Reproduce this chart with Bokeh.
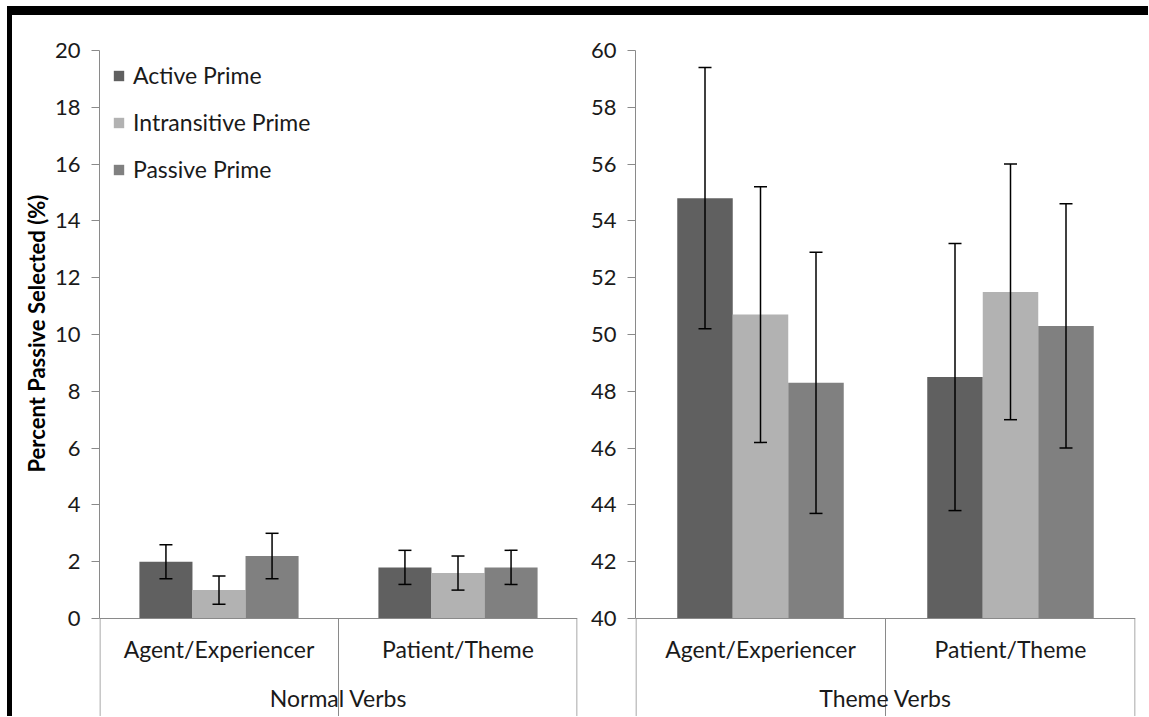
import math
from bokeh.plotting import figure
from bokeh.models import (FactorRange, Range1d, ColumnDataSource, Whisker, TeeHead, Span,
                          FixedTicker, Div)
from bokeh.transform import dodge
from bokeh.layouts import row, column
from bokeh.core.properties import value
from bokeh.embed import file_html
from bokeh.resources import INLINE

# ---------------- data ----------------
categories = ["Agent/Experiencer", "Patient/Theme"]
series = ["Active Prime", "Intransitive Prime", "Passive Prime"]

normal_active = [2.0, 1.8]
normal_intrans = [1.0, 1.6]
normal_passive = [2.2, 1.8]
normal_active_err = [0.6, 0.6]
normal_intrans_err = [0.5, 0.6]
normal_passive_err = [0.8, 0.6]

theme_active = [54.8, 48.5]
theme_intrans = [50.7, 51.5]
theme_passive = [48.3, 50.3]
theme_active_err = [4.6, 4.7]
theme_intrans_err = [4.5, 4.5]
theme_passive_err = [4.6, 4.3]

normal_ticks = [0, 2, 4, 6, 8, 10, 12, 14, 16, 18, 20]
theme_ticks = [40, 42, 44, 46, 48, 50, 52, 54, 56, 58, 60]

y_title = "Percent Passive Selected (%)"

# ---------------- style ----------------
colors = ["#606060", "#b2b2b2", "#808080"]
AXIS_GRAY = "#8a8a8a"
TEXT = "#1a1a1a"
FONT = "Lato"
FS = "23px"
TICK_FS = "22px"
PX_PER_UNIT = 28.4
FIG_H = 701
TOP = 35
BELOW = (FIG_H - TOP - 568) / PX_PER_UNIT   # data units below the baseline
BAR_W = 0.222
OFFSETS = [-BAR_W, 0.0, BAR_W]


def make_panel(group, means, errs, ticks, width, min_left, min_right, legend=False):
    y0, y1 = ticks[0], ticks[-1]
    p = figure(x_range=FactorRange(*categories), y_range=Range1d(y0 - BELOW, y1),
               width=width, height=FIG_H, min_border_left=min_left, min_border_right=min_right,
               min_border_top=TOP, min_border_bottom=0, x_axis_location=None,
               output_backend="svg", toolbar_location=None, outline_line_color=None,
               background_fill_color="white", border_fill_color="white")
    p.xgrid.visible = False
    p.ygrid.visible = False

    ax = p.yaxis[0]
    ax.ticker = FixedTicker(ticks=ticks)
    ax.bounds = (y0, y1)
    ax.axis_line_color = AXIS_GRAY
    ax.major_tick_line_color = AXIS_GRAY
    ax.minor_tick_line_color = None
    ax.major_tick_out = 8
    ax.major_tick_in = 0
    ax.major_label_standoff = 11
    ax.major_label_text_font = FONT
    ax.major_label_text_font_size = TICK_FS
    ax.major_label_text_color = TEXT

    data = dict(cat=categories)
    for i in range(3):
        data[f"m{i}"] = means[i]
        data[f"u{i}"] = [m + e for m, e in zip(means[i], errs[i])]
        data[f"l{i}"] = [m - e for m, e in zip(means[i], errs[i])]
    src = ColumnDataSource(data)

    for i, (s, off, c) in enumerate(zip(series, OFFSETS, colors)):
        kw = dict(legend_label=s) if legend else {}
        p.vbar(x=dodge("cat", off, range=p.x_range), top=f"m{i}", bottom=y0, width=BAR_W,
               source=src, fill_color=c, line_color=None, **kw)
    for i, off in enumerate(OFFSETS):
        w = Whisker(source=src, base=dodge("cat", off, range=p.x_range), upper=f"u{i}",
                    lower=f"l{i}", line_color="black", line_width=1.5, level="annotation")
        w.upper_head = TeeHead(size=13, line_color="black", line_width=1.5)
        w.lower_head = TeeHead(size=13, line_color="black", line_width=1.5)
        p.add_layout(w)

    # category baseline
    p.add_layout(Span(location=y0, dimension="width", line_color=AXIS_GRAY, line_width=1))

    # category separators
    eps = 0.002
    sep_src = ColumnDataSource(dict(a=[categories[0]], b=[categories[1]]))
    for col, off in (("a", -0.5 + eps), ("b", -0.5), ("b", 0.5 - eps)):
        p.segment(x0=dodge(col, off, range=p.x_range), x1=dodge(col, off, range=p.x_range),
                  y0=y0, y1=y0 - BELOW - 1, source=sep_src, line_color=AXIS_GRAY, line_width=1)

    # category labels and group label
    p.text(x="cat", y=y0 - 30 / PX_PER_UNIT, text="cat", source=src,
           text_font=value(FONT), text_font_size=FS, text_color=TEXT,
           text_align="center", text_baseline="middle")
    gsrc = ColumnDataSource(dict(g=[categories[0]], t=[group]))
    p.text(x=dodge("g", 0.5, range=p.x_range), y=y0 - 79 / PX_PER_UNIT, text="t", source=gsrc,
           text_font=value(FONT), text_font_size=FS, text_color=TEXT,
           text_align="center", text_baseline="middle")

    if legend:
        lg = p.legend[0]
        lg.location = (13, 533)
        lg.label_text_font = FONT
        lg.label_text_font_size = FS
        lg.label_text_color = TEXT
        lg.glyph_width = 13
        lg.glyph_height = 13
        lg.label_height = 26
        lg.label_standoff = 8
        lg.spacing = 19
        lg.padding = 0
        lg.margin = 0
        lg.border_line_color = None
        lg.background_fill_alpha = 0
    return p


# narrow strip holding the vertical axis title (pixel-like coordinates, y from top)
LBL_W = 38
pl = figure(width=LBL_W, height=FIG_H, x_range=Range1d(0, LBL_W), y_range=Range1d(FIG_H, 0),
            min_border=0, x_axis_location=None, y_axis_location=None,
            output_backend="svg", toolbar_location=None, outline_line_color=None)
pl.xgrid.visible = False
pl.ygrid.visible = False
pl.text(x=[24], y=[298], text=[y_title], angle=math.pi / 2,
        text_font=value(FONT), text_font_size="22px", text_font_style="bold",
        text_color="black", text_align="center", text_baseline="middle")

p1 = make_panel("Normal Verbs",
                [normal_active, normal_intrans, normal_passive],
                [normal_active_err, normal_intrans_err, normal_passive_err],
                normal_ticks, width=537, min_left=49, min_right=10, legend=True)
p2 = make_panel("Theme Verbs",
                [theme_active, theme_intrans, theme_passive],
                [theme_active_err, theme_intrans_err, theme_passive_err],
                theme_ticks, width=561, min_left=48, min_right=13)

BLACK = {"background-color": "black"}
layout = column(
    Div(text="", width=1148, height=6, margin=0),
    row(Div(text="", width=7, height=9, margin=0),
        Div(text="", width=1141, height=9, margin=0, styles=BLACK), spacing=0),
    row(Div(text="", width=7, height=FIG_H, margin=0),
        Div(text="", width=5, height=FIG_H, margin=0, styles=BLACK),
        pl, p1, p2, spacing=0),
    spacing=0)

open("out.html", "w").write(file_html(layout, INLINE))
